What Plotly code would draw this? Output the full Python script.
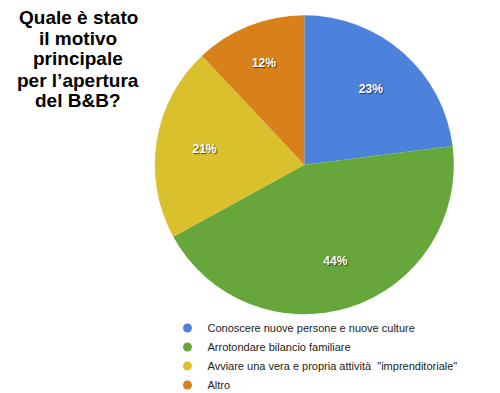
import plotly.graph_objects as go

labels = ["Conoscere nuove persone e nuove culture",
          "Arrotondare bilancio familiare",
          "Avviare una vera e propria attività  \"imprenditoriale\"",
          "Altro"]
values = [23, 44, 21, 12]
colors = ["#4d82dc", "#67a63b", "#dac02c", "#d8801a"]
title_lines = ["Quale è stato", "il motivo", "principale", "per l’apertura", "del B&B?"]

FONT = "Liberation Sans, Arial, sans-serif"
W, H = 492, 385
DOM = dict(x=[146.8 / W, 445.8 / W], y=[1 - 306.3 / H, 1 - 7.3 / H])

fig = go.Figure()
fig.add_trace(go.Pie(
    labels=labels, values=values, sort=False, direction="clockwise", rotation=0,
    marker=dict(colors=colors, line=dict(width=0)),
    textinfo="none", domain=DOM, showlegend=False, hoverinfo="label+percent",
))
fig.add_trace(go.Pie(
    labels=labels, values=values, sort=False, direction="clockwise", rotation=0,
    hole=0.35,
    marker=dict(colors=["rgba(0,0,0,0)"] * len(values), line=dict(width=0)),
    texttemplate="%{percent:.0%}", textposition="inside",
    insidetextorientation="horizontal",
    textfont=dict(family=FONT, size=12, color="white", weight="bold",
                  shadow="1px 1px 1px rgba(0,0,0,0.6)"),
    domain=DOM, showlegend=False, hoverinfo="skip",
))
for lab, col in zip(labels, colors):
    fig.add_trace(go.Scatter(x=[None], y=[None], mode="markers", name=lab,
                             marker=dict(symbol="circle", size=9, color=col)))

ys = [9, 30, 51, 72, 93]
for t, yp in zip(title_lines, ys):
    fig.add_annotation(text=t, x=70 / W, y=1 - yp / H, xref="paper", yref="paper",
                       xanchor="center", yanchor="middle", showarrow=False,
                       font=dict(family=FONT, size=19, color="black", weight="bold"))

fig.update_layout(
    width=W, height=H,
    margin=dict(l=0, r=0, t=0, b=0, autoexpand=False),
    paper_bgcolor="white", plot_bgcolor="white",
    xaxis=dict(visible=False), yaxis=dict(visible=False),
    legend=dict(x=159.5 / W, y=1 - 305.5 / H, xanchor="left", yanchor="top",
                font=dict(family=FONT, size=11, color="#222222"),
                itemwidth=30, tracegroupgap=0, bgcolor="rgba(0,0,0,0)"),
    font=dict(family=FONT),
)
fig.write_html("out.html")
